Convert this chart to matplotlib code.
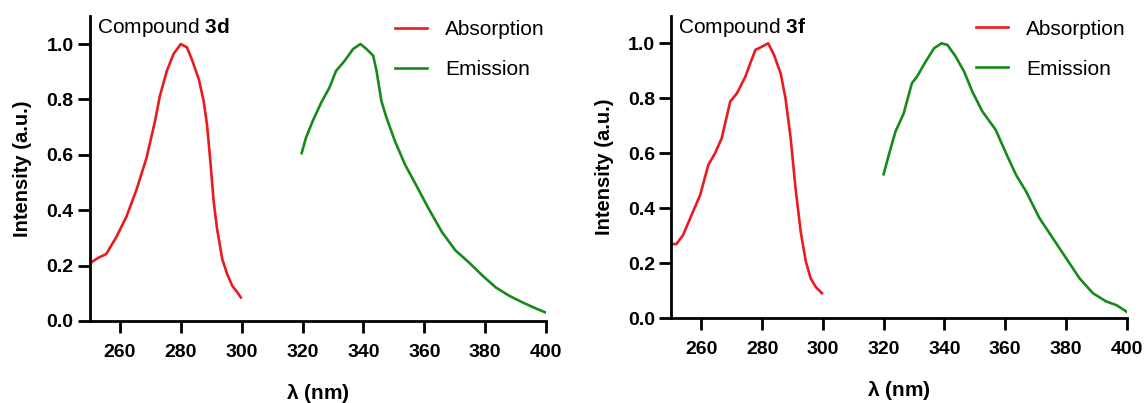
import matplotlib
matplotlib.use("Agg")
import matplotlib.pyplot as plt
import numpy as np

plt.rcParams["font.family"] = ["Liberation Sans", "DejaVu Sans"]
plt.rcParams["mathtext.fontset"] = "custom"
plt.rcParams["mathtext.rm"] = "Liberation Sans"
plt.rcParams["mathtext.bf"] = "Liberation Sans:bold"

# Compound 3d
abs_3d_x = [249.8, 252.7, 255.5, 258.8, 262.1, 265.4, 268.7, 271.5, 273.1, 275.4, 277.6, 280.0,
            282.0, 283.6, 285.9, 287.5, 288.6, 289.7, 290.8, 291.9, 293.6, 295.2, 296.9, 298.6,
            299.7]
abs_3d_y = [0.206, 0.227, 0.242, 0.303, 0.376, 0.473, 0.588, 0.721, 0.812, 0.903, 0.964, 1.0,
            0.988, 0.945, 0.873, 0.794, 0.709, 0.576, 0.43, 0.333, 0.224, 0.17, 0.127, 0.103,
            0.085]
em_3d_x = [319.7, 321.1, 323.3, 326.1, 328.8, 331.0, 333.8, 336.6, 339.0, 341.0, 343.2, 344.3,
           345.9, 347.6, 350.4, 353.7, 357.0, 361.4, 365.8, 370.2, 374.6, 379.1, 383.5, 387.9,
           392.3, 396.7, 400.0]
em_3d_y = [0.606, 0.661, 0.721, 0.788, 0.842, 0.903, 0.939, 0.982, 1.0, 0.982, 0.958, 0.903,
           0.794, 0.733, 0.648, 0.564, 0.497, 0.406, 0.321, 0.255, 0.212, 0.164, 0.121, 0.091,
           0.067, 0.045, 0.030]

# Compound 3f
abs_3f_x = [249.9, 251.8, 254.0, 256.8, 259.6, 262.3, 264.5, 266.7, 269.5, 271.7, 274.5, 276.1,
            277.8, 280.0, 282.0, 283.9, 286.1, 287.7, 289.4, 291.0, 292.7, 294.4, 296.0, 297.7,
            299.7]
abs_3f_y = [0.27, 0.27, 0.303, 0.376, 0.448, 0.558, 0.6, 0.655, 0.788, 0.818, 0.879, 0.927,
            0.976, 0.988, 1.0, 0.958, 0.891, 0.8, 0.655, 0.473, 0.315, 0.206, 0.145, 0.113,
            0.091]
em_3f_x = [320.0, 321.7, 323.9, 326.6, 329.3, 331.0, 333.8, 336.6, 339.1, 341.0, 343.7, 346.5,
           349.2, 352.5, 356.9, 360.3, 363.6, 366.9, 371.3, 375.7, 380.1, 384.5, 388.9, 393.3,
           396.6, 398.3, 400.0]
em_3f_y = [0.524, 0.594, 0.679, 0.745, 0.855, 0.879, 0.933, 0.982, 1.0, 0.994, 0.952, 0.897,
           0.824, 0.752, 0.685, 0.6, 0.521, 0.461, 0.364, 0.291, 0.218, 0.145, 0.091, 0.061,
           0.048, 0.036, 0.024]

panels = [
    ("3d", abs_3d_x, abs_3d_y, em_3d_x, em_3d_y),
    ("3f", abs_3f_x, abs_3f_y, em_3f_x, em_3f_y),
]

RED = "#ea1b1f"
GREEN = "#178a1b"

fig = plt.figure(figsize=(11.45, 4.03), dpi=100)
positions = [[0.0782, 0.2035, 0.3987, 0.756], [0.586, 0.2102, 0.398, 0.7506]]

for pos, (name, ax_, ay_, ex_, ey_) in zip(positions, panels):
    ax = fig.add_axes(pos)
    ax.plot(ax_, ay_, color=RED, lw=1.9, label="Absorption")
    ax.plot(ex_, ey_, color=GREEN, lw=1.9, label="Emission")
    ax.set_xlim(250, 400)
    ax.set_ylim(0, 1.1)
    ax.set_xticks(np.arange(260, 401, 20))
    ax.set_yticks(np.arange(0, 1.01, 0.2))
    ax.set_yticklabels([f"{v:.1f}" for v in np.arange(0, 1.01, 0.2)])
    for s in ["top", "right"]:
        ax.spines[s].set_visible(False)
    for s in ["left", "bottom"]:
        ax.spines[s].set_linewidth(2)
    ax.tick_params(width=2, length=8.5, labelsize=14, pad=3)
    ax.tick_params(axis="x", pad=8)
    for lbl in ax.get_xticklabels() + ax.get_yticklabels():
        lbl.set_fontweight("bold")
    ax.set_xlabel(r"$\mathregular{\lambda}$ (nm)", fontsize=15, fontweight="bold")
    ax.xaxis.set_label_coords(0.5, -0.2)
    ax.set_ylabel("Intensity (a.u.)", fontsize=14.5, fontweight="bold")
    ax.yaxis.set_label_coords(-0.126, 0.5)
    ax.text(0.016, 0.962, rf"Compound $\mathbf{{{name}}}$", transform=ax.transAxes,
            fontsize=15, va="center", ha="left")
    ax.legend(loc="upper left", frameon=False, fontsize=15, handlelength=1.55,
              handletextpad=0.85, labelspacing=1.0, borderpad=0.0, borderaxespad=0.0,
              bbox_to_anchor=(0.669, 0.987))

fig.savefig("out.png", dpi=100)
